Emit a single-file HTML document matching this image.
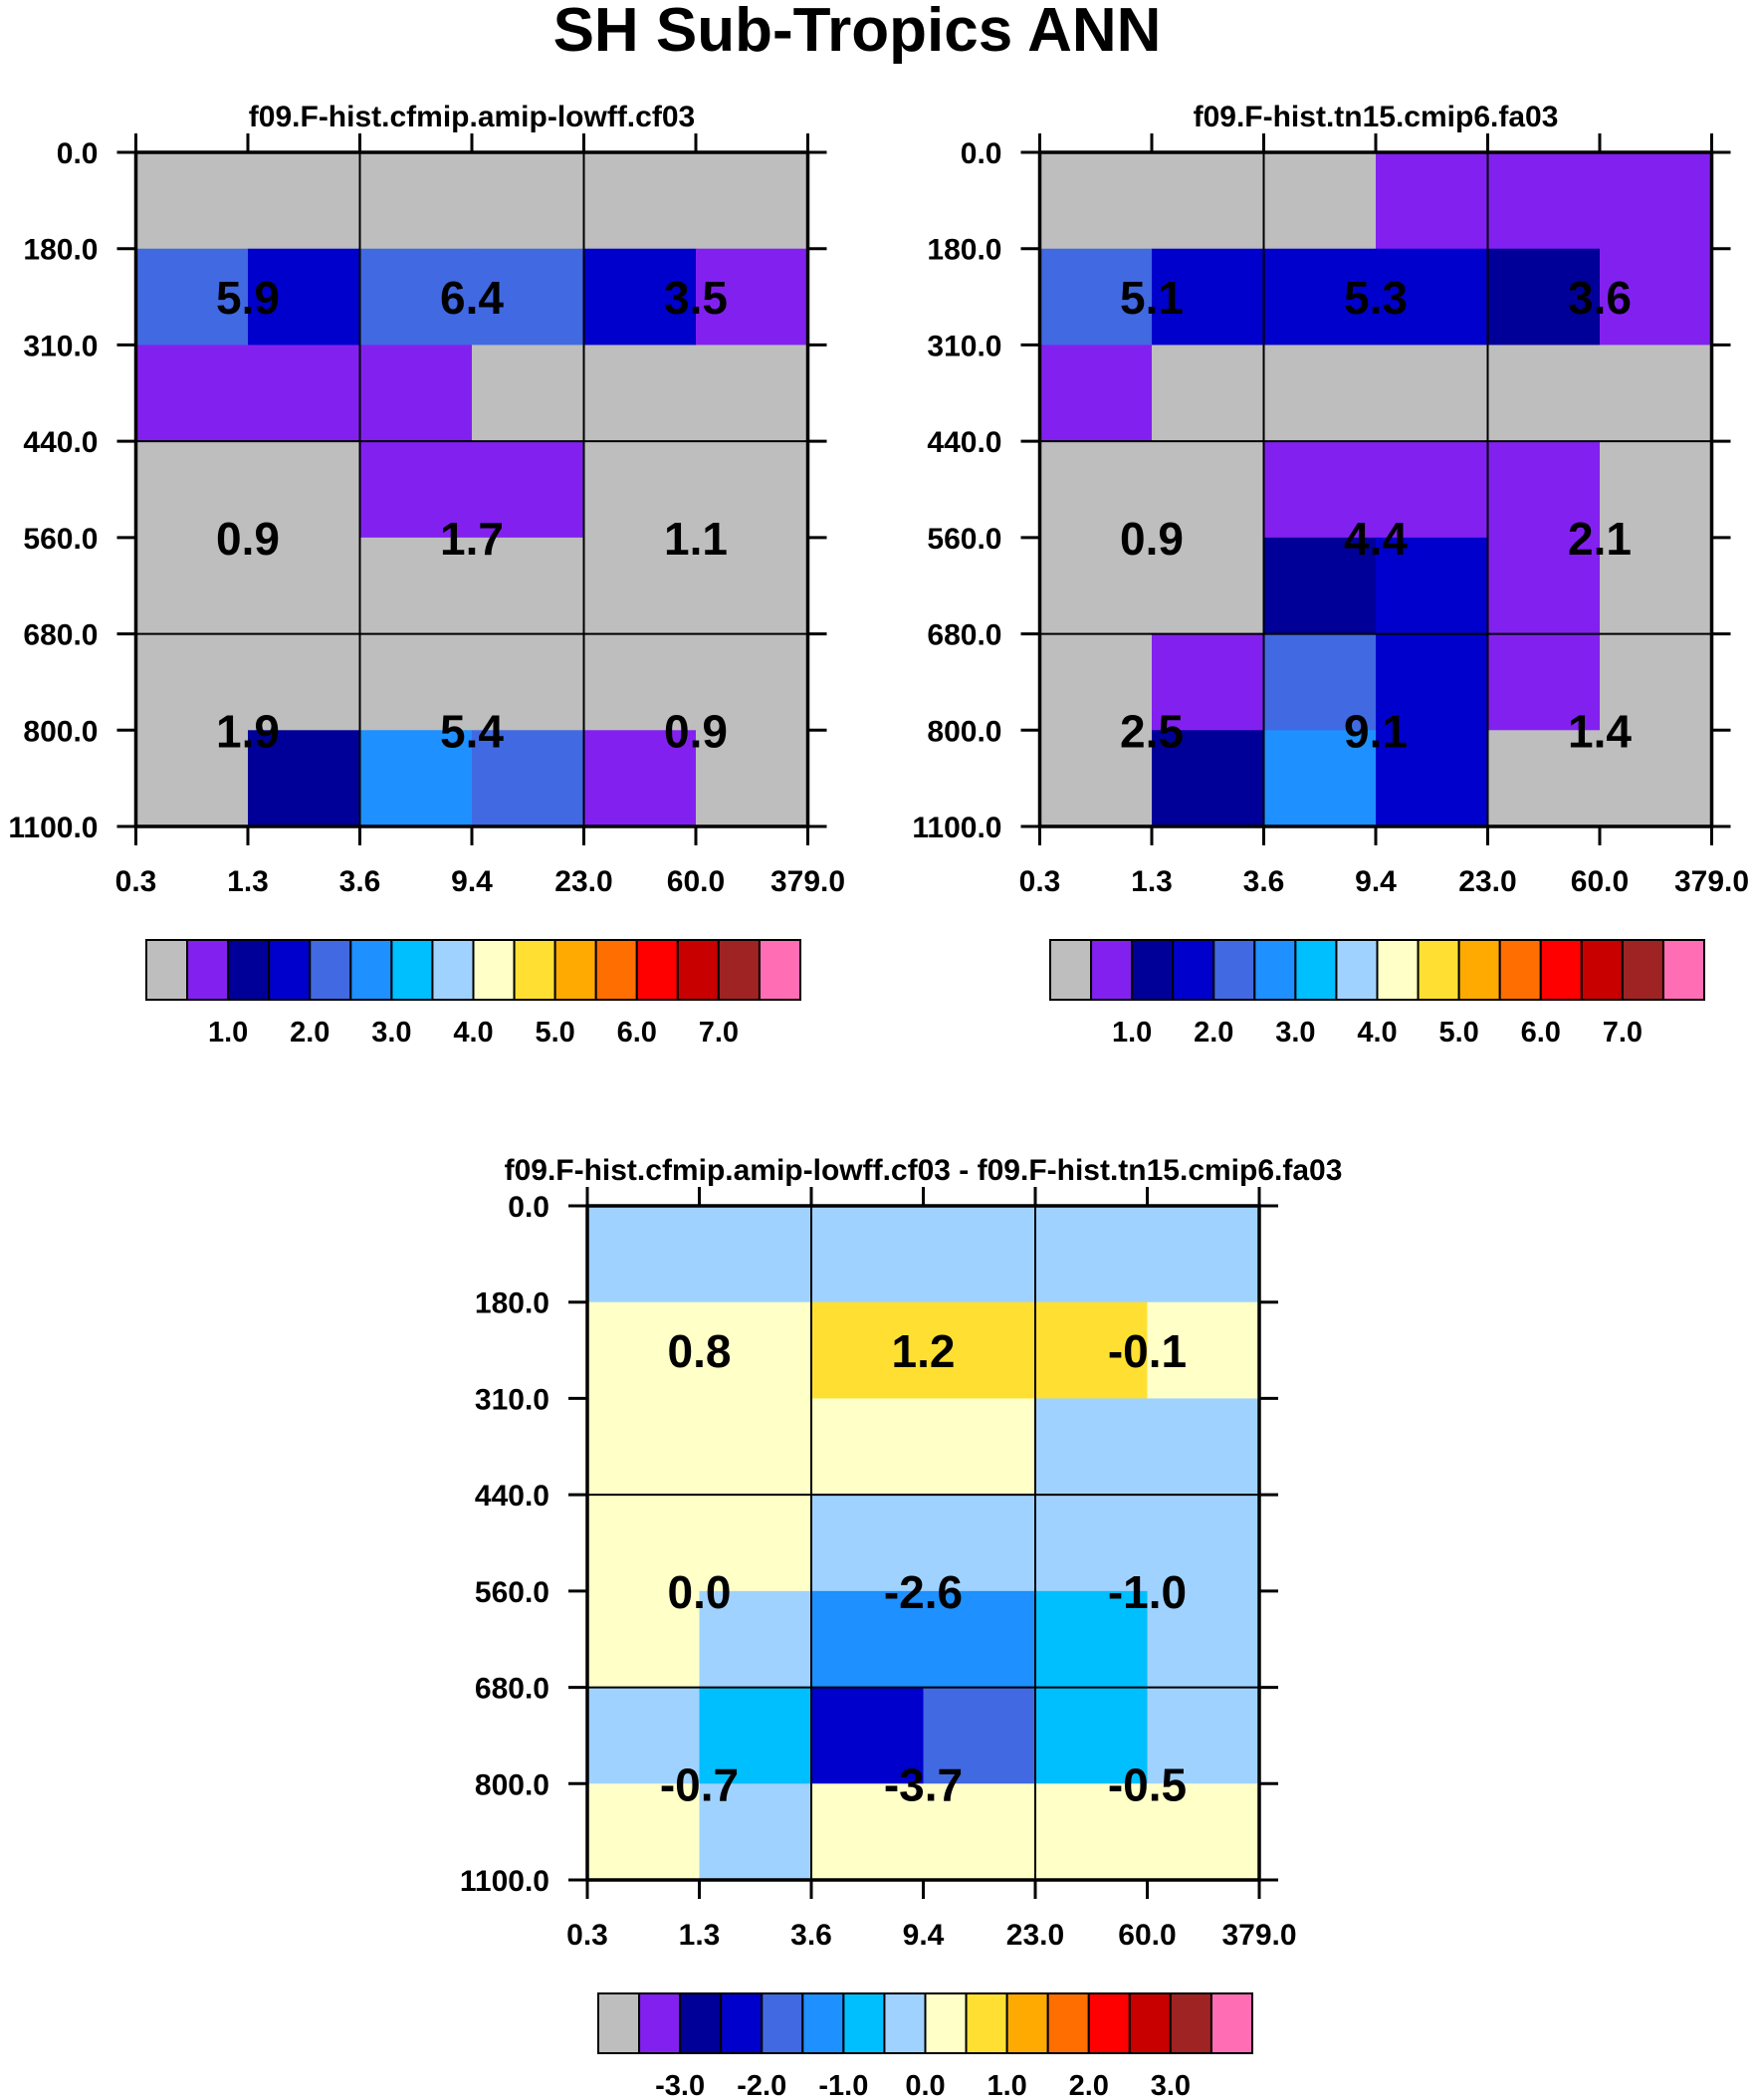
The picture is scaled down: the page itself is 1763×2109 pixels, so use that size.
<!DOCTYPE html>
<html><head><meta charset="utf-8"><style>
body{margin:0;background:#fff}
svg{display:block}
text{font-family:"Liberation Sans",Arial,sans-serif;font-weight:bold;fill:#000}
</style></head><body>
<svg id="fig" width="1763" height="2109" viewBox="0 0 1763 2109" xmlns="http://www.w3.org/2000/svg">
<text x="861" y="51" font-size="62" text-anchor="middle">SH Sub-Tropics ANN</text>
</svg>
<script>
const xTickLabels=["0.3","1.3","3.6","9.4","23.0","60.0","379.0"];
const yTickLabels=["0.0","180.0","310.0","440.0","560.0","680.0","800.0","1100.0"];
const palette=["#bebebe","#8221ef","#000099","#0000cd","#4169e1","#1e90ff","#00bfff","#a0d2ff","#ffffc8","#ffe032","#ffaa00","#ff6e00","#ff0000","#c80000","#a02323","#ff6eb4"];
const cbLabelsAbs=["1.0","2.0","3.0","4.0","5.0","6.0","7.0"];
const cbLabelsDiff=["-3.0","-2.0","-1.0","0.0","1.0","2.0","3.0"];
const cells1=[[0,0,0,0,0,0],[4,3,4,4,3,1],[1,1,1,0,0,0],[0,0,1,1,0,0],[0,0,0,0,0,0],[0,0,0,0,0,0],[0,2,5,4,1,0]];
const cells2=[[0,0,0,1,1,1],[4,3,3,3,2,1],[1,0,0,0,0,0],[0,0,1,1,1,0],[0,0,2,3,1,0],[0,1,4,3,1,0],[0,2,5,3,0,0]];
const cells3=[[7,7,7,7,7,7],[8,8,9,9,9,8],[8,8,8,8,7,7],[8,8,7,7,7,7],[8,7,5,5,6,7],[7,6,3,4,6,7],[8,7,8,8,8,8]];
const values1=[["5.9","6.4","3.5"],["0.9","1.7","1.1"],["1.9","5.4","0.9"]];
const values2=[["5.1","5.3","3.6"],["0.9","4.4","2.1"],["2.5","9.1","1.4"]];
const values3=[["0.8","1.2","-0.1"],["0.0","-2.6","-1.0"],["-0.7","-3.7","-0.5"]];
const svg=document.getElementById('fig');
const NS="http://www.w3.org/2000/svg";
function mk(tag,attrs,parent){const e=document.createElementNS(NS,tag);for(const k in attrs)e.setAttribute(k,attrs[k]);(parent||svg).appendChild(e);return e;}
function panel(name,x0,y0,title,cells,values,cbx,cby,cbLabels){
  const W=675,H=677,nc=6,nr=7;
  const cw=W/nc,rh=H/nr;
  const xs=i=>x0+i*cw, ys=j=>y0+j*rh;
  const g=mk('g',{});
  
  
  const t=mk('text',{x:x0+W/2,y:y0-26,'font-size':30,'text-anchor':'middle'},g);t.textContent=title;
  
  
  cells.forEach((row,j)=>row.forEach((c,i)=>{
    const r=mk('rect',{x:xs(i),y:ys(j),width:cw+0.6,height:rh+0.6,fill:palette[c]},g);
    
    
  }));
  [2,4].forEach(i=>mk('line',{x1:xs(i),x2:xs(i),y1:y0,y2:y0+H,stroke:'#000','stroke-width':2},g));
  [3,5].forEach(j=>mk('line',{x1:x0,x2:x0+W,y1:ys(j),y2:ys(j),stroke:'#000','stroke-width':2},g));
  const b=mk('rect',{x:x0,y:y0,width:W,height:H,fill:'none',stroke:'#000','stroke-width':3.5},g);
  
  
  for(let i=0;i<=nc;i++){
    mk('line',{x1:xs(i),x2:xs(i),y1:y0-19,y2:y0,stroke:'#000','stroke-width':3},g);
    mk('line',{x1:xs(i),x2:xs(i),y1:y0+H,y2:y0+H+19,stroke:'#000','stroke-width':3},g);
    const l=mk('text',{x:xs(i),y:y0+H+65,'font-size':30,'text-anchor':'middle'},g);l.textContent=xTickLabels[i];
    
    
  }
  for(let j=0;j<=nr;j++){
    mk('line',{x1:x0-19,x2:x0,y1:ys(j),y2:ys(j),stroke:'#000','stroke-width':3},g);
    mk('line',{x1:x0+W,x2:x0+W+19,y1:ys(j),y2:ys(j),stroke:'#000','stroke-width':3},g);
    const l=mk('text',{x:x0-38,y:ys(j)+11,'font-size':30,'text-anchor':'end'},g);l.textContent=yTickLabels[j];
    
    
  }
  const labelRows=[ (ys(1)+ys(2))/2, ys(4), ys(6) ];
  values.forEach((row,j)=>row.forEach((v,i)=>{
    const l=mk('text',{x:xs(1+2*i),y:labelRows[j]+17,'font-size':46,'text-anchor':'middle'},g);l.textContent=v;
    
    
  }));
  const bw=657/16,bh=60;
  const cb=mk('g',{},g);
  
  
  palette.forEach((c,k)=>{
    const r=mk('rect',{x:cbx+k*bw,y:cby,width:bw,height:bh,fill:c,stroke:'#000','stroke-width':2},cb);
    
    
  });
  cbLabels.forEach((s,k)=>{
    const l=mk('text',{x:cbx+(2*k+2)*bw,y:cby+bh+42,'font-size':29,'text-anchor':'middle'},cb);l.textContent=s;
    
    
  });
}
panel('panel-cf03',136.5,153,'f09.F-hist.cfmip.amip-lowff.cf03',cells1,values1,147,944,cbLabelsAbs);
panel('panel-fa03',1044.5,153,'f09.F-hist.tn15.cmip6.fa03',cells2,values2,1055,944,cbLabelsAbs);
panel('panel-diff',590,1211,'f09.F-hist.cfmip.amip-lowff.cf03 - f09.F-hist.tn15.cmip6.fa03',cells3,values3,601,2002,cbLabelsDiff);
</script>
</body></html>
